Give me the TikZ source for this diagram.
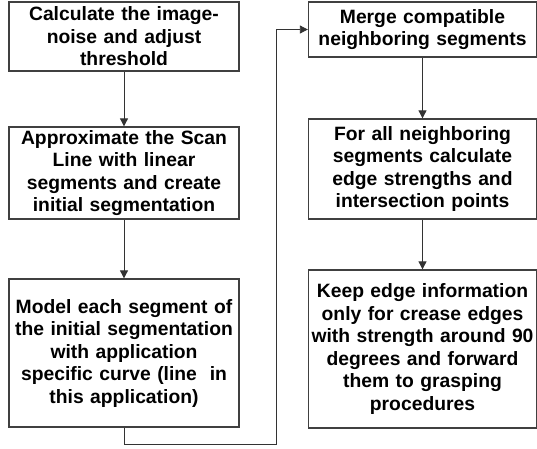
\documentclass[tikz,border=0pt]{standalone}
\usepackage{fontspec}
\setmainfont{Liberation Sans}
\usetikzlibrary{arrows.meta}
\definecolor{bordgray}{rgb}{0.25,0.25,0.25}
\definecolor{linegray}{rgb}{0.2,0.2,0.2}
\tikzset{
  stepbox/.style={draw=bordgray,line width=1.3pt,inner sep=0pt,align=center,
    text width=228pt,minimum width=230pt,
    font=\fontsize{19.3}{22.5}\selectfont\bfseries},
  flow/.style={draw=linegray,line width=0.8pt,-{Triangle[width=8pt,length=8pt]}}
}
\begin{document}
\begin{tikzpicture}[x=1pt,y=-1pt]
	\useasboundingbox (0,0) rectangle (537,448);
	% left column
	\node[stepbox,minimum height=69pt] (calc) at (124,36.5) {Calculate the image-\\noise and adjust\\threshold};
	\node[stepbox,minimum height=92pt] (approx) at (124,173) {Approximate the Scan\\Line with linear\\segments and create\\initial segmentation};
	\node[stepbox,minimum height=148pt] (model) at (124,353) {Model each segment of\\the initial segmentation\\with application\\specific curve (line~ in\\this application)};
	% right column
	\node[stepbox,minimum width=227pt,minimum height=55pt] (merge) at (422.5,29.5) {Merge compatible\\neighboring segments};
	\node[stepbox,minimum width=227pt,minimum height=100pt] (forall) at (422.5,169) {For all neighboring\\segments calculate\\edge strengths and\\intersection points};
	\node[stepbox,minimum width=227pt,minimum height=158pt] (keep) at (422.5,349) {Keep edge information\\only for crease edges\\with strength around 90\\degrees and forward\\them to grasping\\procedures};
	\coordinate (low) at (276,444);
	\draw[flow] (calc) -- (approx);
	\draw[flow] (approx) -- (model);
	\draw[flow] (model.south) |- (low) |- (merge.west);
	\draw[flow] (merge) -- (forall);
	\draw[flow] (forall) -- (keep);
\end{tikzpicture}
\end{document}
